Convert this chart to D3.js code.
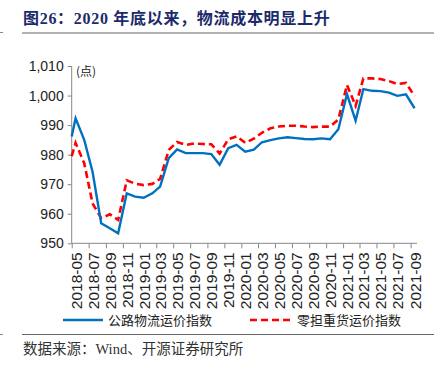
<!DOCTYPE html>
<html>
<head>
<meta charset="utf-8">
<script src="https://cdn.jsdelivr.net/npm/d3@7"></script>
<style>
  body { margin: 0; background: #fff; }
  svg { display: block; }
</style>
</head>
<body>
<div id="chart"></div>
<script>
// 公路物流运价指数 / 零担重货运价指数, monthly, 2018-05 .. 2021-09
const startValues = { road: 986.1, ltl: 979.5 }; // value where the lines begin at the axis (2018-05-01)

const roadIndex = [
  992.3, 985.0, 974.2, 956.8, 955.1, 953.4, 966.9, 965.8,
  965.4, 966.9, 969.2, 978.8, 981.8, 980.5, 980.5, 980.5, 980.2, 976.6, 982.2, 983.3,
  981.0, 981.7, 984.2, 984.9, 985.5, 985.9, 985.6, 985.3, 985.2, 985.5, 985.2, 988.6,
  1000.5, 991.5, 1002.2, 1001.6, 1001.5, 1001.0, 999.9, 1000.4, 995.7
];

const ltlIndex = [
  984.0, 977.1, 963.5, 958.5, 959.8, 957.9, 971.3, 970.2,
  969.7, 970.1, 971.8, 981.6, 984.3, 983.3, 983.8, 983.6, 983.5, 980.4, 985.2, 986.2,
  984.0, 985.4, 987.4, 988.9, 989.5, 989.8, 989.8, 989.5, 989.3, 989.5, 989.5, 991.9,
  1003.6, 996.5, 1005.8, 1005.8, 1005.6, 1004.9, 1003.9, 1004.3, 999.8
];

const xTickLabels = [
  "2018-05", "2018-07", "2018-09", "2018-11", "2019-01", "2019-03", "2019-05",
  "2019-07", "2019-09", "2019-11", "2020-01", "2020-03", "2020-05", "2020-07",
  "2020-09", "2020-11", "2021-01", "2021-03", "2021-05", "2021-07", "2021-09"
];
const yTicks = [950, 960, 970, 980, 990, 1000, 1010];

const W = 444, H = 369;
const plot = { left: 71.7, right: 419, top: 66, bottom: 243.3 };

const parseMonth = d3.timeParse("%Y-%m");
const months = d3.timeMonth.range(new Date(2018, 4, 1), new Date(2021, 9, 1));
const midMonth = (d) => new Date(d.getFullYear(), d.getMonth(), 15);

const startDate = new Date(2018, 4, 1);
const roadData = [{ date: startDate, value: startValues.road }]
  .concat(months.map((m, i) => ({ date: midMonth(m), value: roadIndex[i] })));
const ltlData = [{ date: startDate, value: startValues.ltl }]
  .concat(months.map((m, i) => ({ date: midMonth(m), value: ltlIndex[i] })));

const svg = d3.select("#chart").append("svg")
  .attr("width", W).attr("height", H);

// title
svg.append("text")
  .attr("x", 23).attr("y", 24)
  .attr("font-family", "'Liberation Serif', 'Noto Sans CJK SC', serif")
  .attr("font-weight", "bold")
  .attr("font-size", "16px")
  .attr("letter-spacing", "0.7px")
  .attr("fill", "#1b2a6b")
  .text("图26：2020 年底以来，物流成本明显上升");

svg.append("line")
  .attr("x1", 22).attr("x2", 434).attr("y1", 33).attr("y2", 33)
  .attr("stroke", "#666").attr("stroke-width", 1);
svg.append("line")
  .attr("x1", 0).attr("x2", 3).attr("y1", 32.5).attr("y2", 32.5)
  .attr("stroke", "#888").attr("stroke-width", 1);

const x = d3.scaleTime()
  .domain([startDate, new Date(2021, 9, 1)])
  .range([plot.left, plot.right]);
const y = d3.scaleLinear()
  .domain([950, 1010])
  .range([plot.bottom, plot.top]);

const axisColor = "#888";

// y axis
const yAxis = svg.append("g")
  .attr("transform", `translate(${plot.left},0)`)
  .call(d3.axisLeft(y).tickValues(yTicks).tickSize(4).tickPadding(4).tickFormat(d3.format(",")));
yAxis.select(".domain").attr("stroke", axisColor).attr("d", `M0,${plot.top}V${plot.bottom}`);
yAxis.selectAll(".tick line").attr("stroke", axisColor);
yAxis.selectAll(".tick text")
  .attr("font-family", "'Liberation Sans', Arial, sans-serif")
  .attr("font-size", "14px")
  .attr("fill", "#222");

svg.append("text")
  .attr("x", 76).attr("y", 76)
  .attr("font-family", "'Noto Sans CJK SC', sans-serif")
  .attr("font-size", "12px")
  .attr("fill", "#222")
  .text("(点)");

// x axis
const xTickDates = xTickLabels.map(parseMonth);
const xAxis = svg.append("g")
  .attr("transform", `translate(0,${plot.bottom})`)
  .call(d3.axisBottom(x).tickValues(xTickDates).tickSize(5).tickFormat(d3.timeFormat("%Y-%m")));
xAxis.select(".domain").attr("stroke", axisColor).attr("d", `M${plot.left},0H${plot.right - 2}`);
xAxis.selectAll(".tick line").attr("stroke", axisColor);
xAxis.selectAll(".tick text")
  .attr("font-family", "'Liberation Sans', Arial, sans-serif")
  .attr("font-size", "15.5px")
  .attr("fill", "#222")
  .attr("text-anchor", "end")
  .attr("transform", "translate(4,9) rotate(-90)")
  .attr("x", 0).attr("y", 0)
  .attr("dy", "0.35em");

// lines
const line = d3.line().x((d) => x(d.date)).y((d) => y(d.value));

svg.append("path")
  .datum(ltlData)
  .attr("fill", "none")
  .attr("stroke", "#ff0000")
  .attr("stroke-width", 2.6)
  .attr("stroke-dasharray", "7,4")
  .attr("d", line);

svg.append("path")
  .datum(roadData)
  .attr("fill", "none")
  .attr("stroke", "#0070c0")
  .attr("stroke-width", 2.4)
  .attr("d", line);

// legend
const legend = svg.append("g").attr("font-family", "'Noto Sans CJK SC', sans-serif").attr("font-size", "13px");
legend.append("line")
  .attr("x1", 63).attr("x2", 103).attr("y1", 320).attr("y2", 320)
  .attr("stroke", "#0070c0").attr("stroke-width", 2.4);
legend.append("text").attr("x", 108).attr("y", 325).attr("fill", "#222").text("公路物流运价指数");
legend.append("line")
  .attr("x1", 250).attr("x2", 293).attr("y1", 320).attr("y2", 320)
  .attr("stroke", "#ff0000").attr("stroke-width", 2.6).attr("stroke-dasharray", "7,4");
legend.append("text").attr("x", 297).attr("y", 325).attr("fill", "#222").text("零担重货运价指数");

svg.append("line")
  .attr("x1", 22).attr("x2", 434).attr("y1", 334.5).attr("y2", 334.5)
  .attr("stroke", "#666").attr("stroke-width", 1);
svg.append("line")
  .attr("x1", 0).attr("x2", 3).attr("y1", 334.5).attr("y2", 334.5)
  .attr("stroke", "#888").attr("stroke-width", 1);

svg.append("text")
  .attr("x", 23).attr("y", 354)
  .attr("font-family", "'Liberation Serif', 'Noto Sans CJK SC', serif")
  .attr("font-size", "14.5px")
  .attr("fill", "#333")
  .text("数据来源：Wind、开源证券研究所");
</script>
</body>
</html>
